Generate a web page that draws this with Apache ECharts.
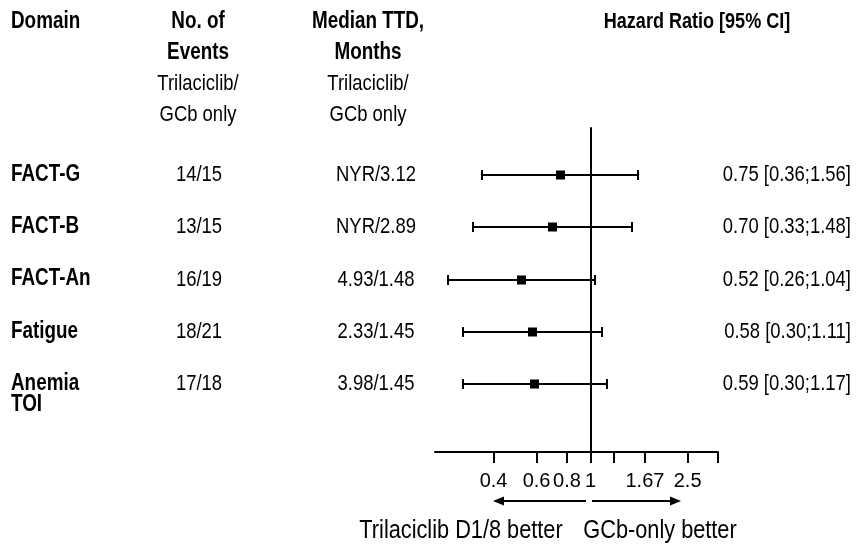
<!DOCTYPE html>
<html>
<head>
<meta charset="utf-8">
<script src="https://cdn.jsdelivr.net/npm/echarts@6/dist/echarts.min.js"></script>
<style>
html,body{margin:0;padding:0;background:#fff;}
#chart{width:861px;height:544px;}
</style>
</head>
<body>
<div id="chart"></div>
<script>
// ---- data ----
const domains = ['FACT-G', 'FACT-B', 'FACT-An', 'Fatigue', 'Anemia\nTOI'];
const events = ['14/15', '13/15', '16/19', '18/21', '17/18'];
const medianTTD = ['NYR/3.12', 'NYR/2.89', '4.93/1.48', '2.33/1.45', '3.98/1.45'];
const hr = [0.75, 0.70, 0.52, 0.58, 0.59];
const ciLow = [0.36, 0.33, 0.26, 0.30, 0.30];
const ciHigh = [1.56, 1.48, 1.04, 1.11, 1.17];
const tickValues = [0.4, 0.6, 0.8, 1, 1.25, 1.67, 2.5, 3.33];
const tickLabels = ['0.4', '0.6', '0.8', '1', '', '1.67', '2.5', ''];
const axisMin = 0.23, axisMax = 3.33;

// ---- styles ----
const FONT = '"Liberation Sans", Arial, sans-serif';
const NARROW = 0.82;           // emulate a condensed face
const BOLD = 23, REG = 22.5;

const ln = Math.log;
const chart = echarts.init(document.getElementById('chart'), null, {renderer: 'canvas'});

const barData = hr.map((v, i) => [ln(v), i, ln(ciLow[i]), ln(ciHigh[i])]);
const textData = hr.map((v, i) => [0, i]);
const lnTicks = tickValues.map(v => ln(v));

function labelFor(val) {
  let best = 0, bd = Infinity;
  lnTicks.forEach((t, k) => { const d = Math.abs(t - val); if (d < bd) { bd = d; best = k; } });
  return tickLabels[best];
}

function txtEl(text, x, y, opts) {
  opts = opts || {};
  return {
    type: 'text', x: x, y: y, scaleX: NARROW, scaleY: 1, silent: true,
    style: {
      text: text, align: opts.align || 'center', verticalAlign: opts.vAlign || 'middle',
      fontFamily: FONT, fontSize: opts.size || (opts.bold ? BOLD : REG),
      fontWeight: opts.bold ? 'bold' : 'normal', fill: '#000', lineHeight: opts.lineHeight || 21
    }
  };
}

const option = {
  animation: false,
  backgroundColor: '#fff',
  grid: {left: 435, right: 143, top: 128, bottom: 92, containLabel: false},
  xAxis: {
    type: 'value',
    min: ln(axisMin), max: ln(axisMax),
    axisLine: {show: true, onZero: false, lineStyle: {color: '#000', width: 2}},
    axisTick: {show: true, customValues: lnTicks, length: 11, lineStyle: {color: '#000', width: 2}},
    axisLabel: {
      show: true, customValues: lnTicks, formatter: labelFor, margin: 19,
      fontFamily: FONT, fontSize: 20, color: '#000'
    },
    splitLine: {show: false}
  },
  yAxis: {
    type: 'value', inverse: true,
    min: -0.9, max: 5.3,
    axisLine: {show: true, onZero: true, lineStyle: {color: '#000', width: 2}},
    axisTick: {show: false},
    axisLabel: {show: false},
    splitLine: {show: false}
  },
  series: [
    {
      type: 'custom',
      name: 'HR',
      data: barData,
      encode: {x: [0, 2, 3], y: 1},
      renderItem: function (params, api) {
        const yv = api.value(1);
        const pLo = api.coord([api.value(2), yv]);
        const pHi = api.coord([api.value(3), yv]);
        const pM = api.coord([api.value(0), yv]);
        const y = Math.round(pLo[1]);
        const xl = Math.round(pLo[0]), xh = Math.round(pHi[0]);
        const ls = {stroke: '#000', lineWidth: 2};
        const cap = 5, sq = 9;
        return {
          type: 'group',
          children: [
            {type: 'line', shape: {x1: xl, y1: y, x2: xh, y2: y}, style: ls},
            {type: 'line', shape: {x1: xl, y1: y - cap, x2: xl, y2: y + cap}, style: ls},
            {type: 'line', shape: {x1: xh, y1: y - cap, x2: xh, y2: y + cap}, style: ls},
            {type: 'rect', shape: {x: Math.round(pM[0] - sq / 2), y: y - 4.5, width: sq, height: sq}, style: {fill: '#000'}}
          ]
        };
      }
    },
    {
      type: 'custom',
      name: 'table',
      data: textData,
      encode: {x: 0, y: 1},
      clip: false,
      renderItem: function (params, api) {
        const i = params.dataIndex;
        const y = api.coord([0, api.value(1)])[1];
        const hrText = hr[i].toFixed(2) + ' [' + ciLow[i].toFixed(2) + ';' + ciHigh[i].toFixed(2) + ']';
        return {
          type: 'group',
          children: [
            txtEl(domains[i], 11, y - 11, {align: 'left', bold: true, vAlign: 'top'}),
            txtEl(events[i], 199, y),
            txtEl(medianTTD[i], 376, y),
            txtEl(hrText, 851, y, {align: 'right'})
          ]
        };
      }
    }
  ],
  graphic: [
    txtEl('Domain', 11, 22, {align: 'left', bold: true}),
    txtEl('No. of', 198, 22, {bold: true}),
    txtEl('Events', 198, 53, {bold: true}),
    txtEl('Trilaciclib/', 198, 84),
    txtEl('GCb only', 198, 115),
    txtEl('Median TTD,', 368, 22, {bold: true}),
    txtEl('Months', 368, 53, {bold: true}),
    txtEl('Trilaciclib/', 368, 84),
    txtEl('GCb only', 368, 115),
    txtEl('Hazard Ratio [95% CI]', 697, 22, {bold: true, size: 22}),
    // direction arrows
    {type: 'line', silent: true, shape: {x1: 586, y1: 501, x2: 500, y2: 501}, style: {stroke: '#000', lineWidth: 2}},
    {type: 'polygon', silent: true, shape: {points: [[493, 501], [504, 496.5], [504, 505.5]]}, style: {fill: '#000'}},
    {type: 'line', silent: true, shape: {x1: 592, y1: 501, x2: 674, y2: 501}, style: {stroke: '#000', lineWidth: 2}},
    {type: 'polygon', silent: true, shape: {points: [[681, 501], [670, 496.5], [670, 505.5]]}, style: {fill: '#000'}},
    txtEl('Trilaciclib D1/8 better', 461, 531, {size: 26.5}),
    txtEl('GCb-only better', 660, 531, {size: 26.5})
  ]
};
chart.setOption(option);
</script>
</body>
</html>
